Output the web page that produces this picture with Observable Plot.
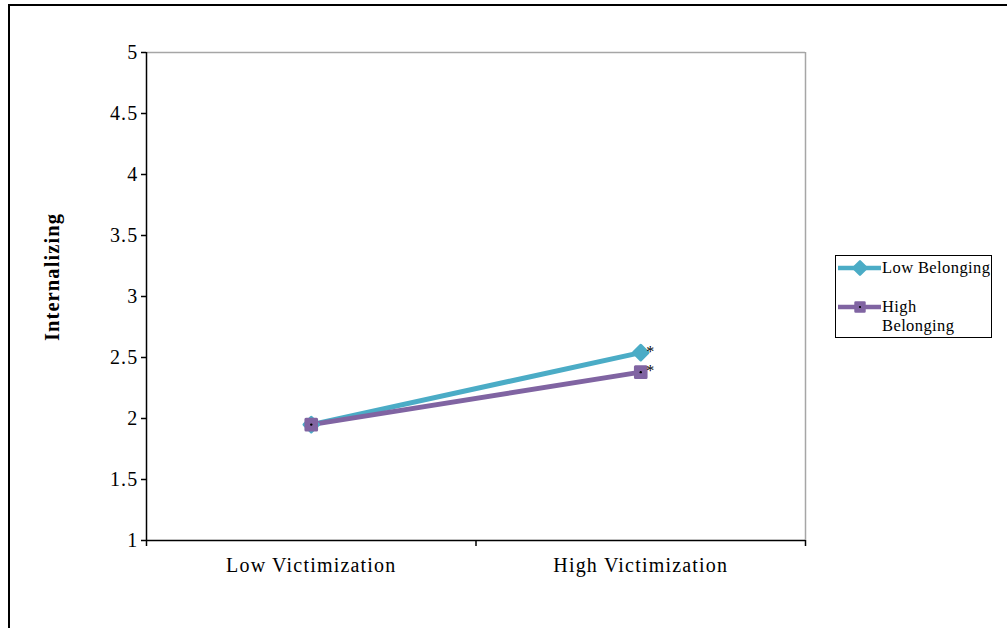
<!DOCTYPE html>
<html>
<head>
<meta charset="utf-8">
<script src="https://cdn.jsdelivr.net/npm/d3@7"></script>
<script src="https://cdn.jsdelivr.net/npm/@observablehq/plot@0.6"></script>
<style>
  html, body { margin: 0; padding: 0; background: #fff; }
  body { width: 1007px; height: 628px; position: relative; overflow: hidden; font-family: "Liberation Serif", "Times New Roman", serif; }
  #frame { position: absolute; left: 8px; top: 4px; width: 1010px; height: 640px; border-left: 2px solid #000; border-top: 2px solid #000; box-sizing: border-box; }
  #chart { position: absolute; left: 0; top: 0; }
  #chart svg text { letter-spacing: 1.2px; }
  #ylabel { position: absolute; left: 52px; top: 277px; transform: translate(-50%, -50%) rotate(-90deg); font-weight: bold; font-size: 20.5px; letter-spacing: 1.1px; white-space: nowrap; color: #000; }
  #legend { position: absolute; left: 835px; top: 255px; width: 157px; height: 83px; border: 1.5px solid #000; box-sizing: border-box; font-size: 16.5px; letter-spacing: 0.4px; color: #000; }
  .item { position: absolute; left: 2px; display: flex; align-items: flex-start; }
  .item svg { flex: none; }
  .item span { line-height: 19px; }
</style>
</head>
<body>
<div id="frame"></div>
<div id="chart"></div>
<div id="ylabel">Internalizing</div>
<div id="legend"></div>
<script>
const categories = ["Low Victimization", "High Victimization"];
const seriesNames = ["Low Belonging", "High Belonging"];
const lowBelonging = [1.95, 2.54];
const highBelonging = [1.95, 2.38];
const yTicks = [1, 1.5, 2, 2.5, 3, 3.5, 4, 4.5, 5];
const seriesColors = ["#4BACC6", "#8064A2"];
const seriesSymbols = ["diamond2", "square"];
const significance = ["", "*"];

const data = [];
[lowBelonging, highBelonging].forEach((vals, s) => {
  vals.forEach((v, i) => data.push({series: seriesNames[s], cat: categories[i], xi: i + 0.5, y: v, sig: significance[i]}));
});

const font = '"Liberation Serif", "Times New Roman", serif';
const chart = Plot.plot({
  width: 1007,
  height: 628,
  marginLeft: 146,
  marginRight: 202,
  marginTop: 52,
  marginBottom: 88,
  style: {fontFamily: font, fontSize: "20px", color: "#000", background: "transparent"},
  x: {domain: [0, categories.length]},
  y: {domain: [1, 5]},
  marks: [
    Plot.ruleY([5], {stroke: "#a6a6a6", strokeWidth: 1.5}),
    Plot.ruleX([categories.length], {stroke: "#a6a6a6", strokeWidth: 1.5}),
    Plot.ruleX([0], {stroke: "#000", strokeWidth: 1.5}),
    Plot.ruleY([1], {stroke: "#000", strokeWidth: 1.5}),
    Plot.axisY({ticks: yTicks, tickSize: 5, tickPadding: 3, tickFormat: d => String(d), label: null, strokeWidth: 1.5, fontSize: 20}),
    Plot.axisX({ticks: d3.range(categories.length + 1), tickSize: 6, tickFormat: () => "", label: null, strokeWidth: 1.5}),
    Plot.axisX({ticks: categories.map((c, i) => i + 0.5), tickSize: 0, tickPadding: 17, tickFormat: d => categories[Math.floor(d)], label: null, fontSize: 20}),
    ...seriesNames.map((name, s) => Plot.line(data.filter(d => d.series === name), {x: "xi", y: "y", stroke: seriesColors[s], strokeWidth: 5})),
    ...seriesNames.map((name, s) => Plot.dot(data.filter(d => d.series === name), {x: "xi", y: "y", symbol: seriesSymbols[s], r: s === 0 ? 6.5 : 6, fill: seriesColors[s], stroke: seriesColors[s], strokeWidth: 3, strokeLinejoin: "round"})),
    Plot.dot(data.filter(d => d.series === seriesNames[1]), {x: "xi", y: "y", r: 1.2, fill: "#000"}),
    Plot.text(data.filter(d => d.sig), {x: "xi", y: "y", text: "sig", dx: 10, dy: -1, fontSize: 16, fill: "#000"})
  ]
});
document.getElementById("chart").appendChild(chart);

// legend
const legend = document.getElementById("legend");
const tops = [2, 41];
const labels = ["Low Belonging", "High<br>Belonging"];
seriesNames.forEach((name, s) => {
  const item = document.createElement("div");
  item.className = "item";
  item.style.top = tops[s] + "px";
  const sw = d3.create("svg").attr("width", 44).attr("height", 20);
  sw.append("line").attr("x1", 0).attr("x2", 43).attr("y1", 10).attr("y2", 10).attr("stroke", seriesColors[s]).attr("stroke-width", 4.5);
  const sym = d3.symbol().type(s === 0 ? d3.symbolDiamond2 : d3.symbolSquare).size(s === 0 ? 110 : 80);
  sw.append("path").attr("d", sym()).attr("transform", "translate(22,10)").attr("fill", seriesColors[s]).attr("stroke", seriesColors[s]).attr("stroke-width", 2.5).attr("stroke-linejoin", "round");
  if (s === 1) sw.append("circle").attr("cx", 22).attr("cy", 10).attr("r", 1.1).attr("fill", "#000");
  item.appendChild(sw.node());
  const t = document.createElement("span");
  t.innerHTML = labels[s];
  item.appendChild(t);
  legend.appendChild(item);
});
</script>
</body>
</html>
